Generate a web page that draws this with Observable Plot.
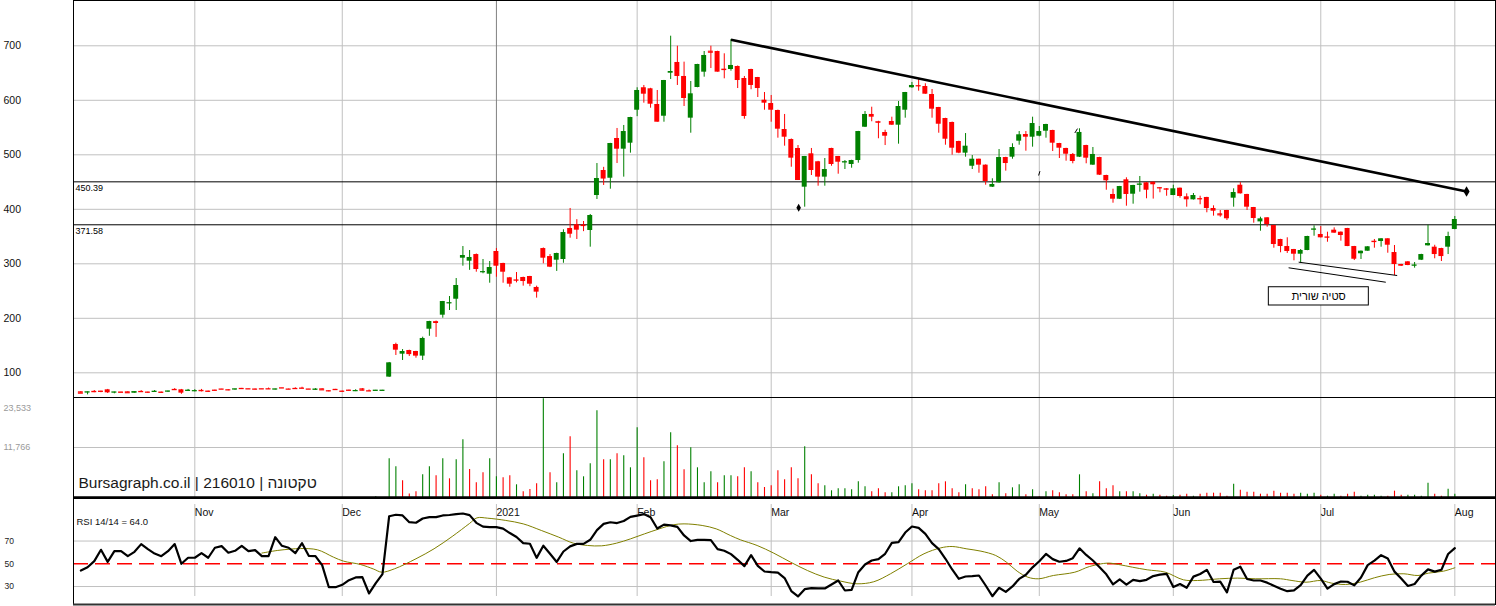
<!DOCTYPE html>
<html><head><meta charset="utf-8">
<script src="https://cdn.jsdelivr.net/npm/d3@7"></script>
<script src="https://cdn.jsdelivr.net/npm/@observablehq/plot@0.6"></script>
<style>
html,body{margin:0;padding:0;background:#fff;overflow:hidden;}
#chart{position:relative;width:1496px;height:606px;overflow:hidden;font-family:"Liberation Sans",Arial,sans-serif;}
#chart svg{position:absolute;left:0;overflow:visible;}
</style></head><body><div id="chart"></div>
<script>
// ---------- data (trading-day index: 0 = first session of Nov 2020) ----------
const firstIndex = -17;
const opens = [
65.1,64.2,66.0,66.3,68.8,64.2,64.8,65.1,62.8,65.9,
64.6,65.5,64.6,66.1,69.6,68.8,67.4,66.9,67.8,66.4,
68.2,70.3,69.0,69.9,71.4,70.9,70.3,70.9,70.9,69.8,
72.6,70.2,71.4,72.0,70.3,69.4,70.6,67.2,69.6,66.4,
68.2,66.9,70.6,67.1,67.4,67.4,
92.1,151.9,134.2,140.9,139.1,130.6,180,194,205.7,227.8,
235,310.3,304.8,317,285,280.9,322.6,300.6,274.3,270.5,
274.9,276.7,256.6,328,313.3,306.6,307.9,364.8,371.6,371,
361.1,425.3,471.2,457,529.9,510.3,521.3,581.8,623,621.1,
592.3,570.8,649.7,669.4,643.7,567.2,623.5,651.6,690.1,689.5,
657,656.5,662,640,656.5,641.8,600.2,594.1,581.3,546.4,
528,511.6,440.6,501.8,487.2,459,511.6,496.9,486.2,482.2,
489.5,550.6,574,561,540.9,561.1,554.3,581.8,623,627,
625.3,610.6,586.8,566.6,559.3,524.4,503,479,491.9,481,
440.6,448.6,495,495.6,525,537.2,532.3,534.1,543.3,544.6,
520.7,511.6,500.6,495.6,517,481,495,462,427.2,418.5,
454.1,427.7,445.5,448.6,449.7,439.8,437.6,425.3,438.7,422.9,
417.4,419.8,421.7,401.5,391.7,397.8,420.4,444.2,427.2,403.3,
376.9,384.4,370.3,344.6,331.7,326.2,317.6,324.4,363.2,353.8,
349.3,361.7,358,364.8,331.7,318.4,323.1,341.3,340.9,345.9,
320.7,298.7,303.6,297.1,306.6,333,330.5,328,330.5,363];
const highs = [
65.5,64.8,67.5,66.3,69.5,64.6,64.8,65.1,65.1,67.3,
64.6,67.5,64.6,66.4,71.0,69.5,69.5,69.0,69.5,66.4,
68.2,70.3,69.0,70.3,71.4,70.9,70.3,70.9,72.0,70.2,
72.6,70.2,72.5,73.5,70.3,71.0,70.6,67.2,69.6,66.4,
68.2,69.0,71.0,68.5,67.8,67.8,
119,154.3,142.7,141.5,139.5,165.4,194.5,195,231,240,
273,331.7,324.4,318,307.9,304.2,328,301,275,284,
275.5,277,259,329,317,319.5,362.4,401.5,381,377.6,
390.5,484,477,521,548.3,553.8,568.8,623,627.2,622,
618,636.5,717.6,699.3,670,634.5,666,689.5,699.3,690,
685.3,711.6,663,643.7,657,642,614.3,608.8,582,574,
529,517,497,511.6,488,493.2,512,497,489.5,490,
543,579.4,587.3,561.5,545.1,569,597.8,614.5,632.7,638.7,
630.3,619.8,587,567,560,525,539,498.7,492,481.5,
456,509.7,495.5,520.2,542.7,542.7,569,551.9,556,545,
521,512,502.4,547.7,517.5,513.4,495.5,462.5,436.9,442,
457.8,444,460.2,449,450,440,438,444.2,439,428.4,
429,424,422,406.4,397.8,398,437.6,449,427.5,403.5,
385.5,384.5,370.5,345,347.7,326.5,326.2,350.5,369.7,368.4,
358,366,358.5,365,332,323.5,331.5,344.6,346,346,
333.6,299,304,302.4,317.5,370.9,334,328.5,358,386.8];
const lows = [
62.5,59.6,63.5,63.5,62.0,61.5,64.3,63.5,62.8,63.8,
62.0,64.0,62.5,64.0,67.5,60.5,66.0,65.0,65.0,64.0,
66.0,70.0,67.0,68.0,69.5,70.5,68.5,70.5,69.5,68.5,
72.2,69.0,70.0,70.5,70.0,68.0,68.8,65.0,69.3,64.5,
66.0,65.5,67.0,65.5,67.4,67.4,
91.5,131.8,122.6,130,126.8,122.6,167,165,200.2,214.3,
214.3,295.6,288,284.6,281.7,264.4,275.4,264.4,257,265,
259,258,237,300,293,286,301,347,344.6,359,
330.5,418,443.7,436.9,484,459,503,570,594.7,585.5,
559.8,559.8,638.2,627.2,588.6,539.6,623,642.4,658.3,651.6,
639.4,653.4,621.6,565.3,619.3,605.1,581.8,559.8,530.5,515.8,
477.2,452.8,403.9,462,442.4,442.4,479,464.4,473,475.4,
484.6,550,560.6,529.4,517,554,519.5,567.2,622,616.7,
611,567.2,539.6,517.6,499.3,502,495.6,473,466.2,444.2,
440,448,470,491.9,517.6,506.6,514,533,530.5,506,
493.2,488.3,483.5,495,483.5,480.5,462,435,411.2,418,
405.7,409.4,431.4,419.3,418.7,430.3,424,425,420.4,403.9,
417,408.3,393.6,387.4,385.5,379.4,403.9,428,397.8,374.5,
359.8,367.2,328.6,320.2,319,305.5,301.1,324,350.6,347.5,
339.6,356,341.5,331.5,306,307.9,323,328.6,330.5,319.4,
278.5,295,296.5,292,306,332.5,309.2,304.2,317,362.5];
const closes = [
62.7,64.8,65.5,66.0,63.3,64.6,64.3,63.5,65.1,65.5,
64.4,65.9,64.2,66.4,69.2,62.7,67.8,67.2,67.3,66.1,
67.9,70.0,68.7,70.3,71.1,70.5,70.0,70.5,70.5,70.2,
72.2,70.0,71.1,71.7,70.0,69.8,68.8,66.9,69.3,66.1,
67.9,67.3,68.2,66.8,67.8,67.8,
118.3,141.5,139.1,133.4,130.6,163,194.1,192.5,230.8,228.4,
260.2,315.2,311.6,289.5,285.5,293.2,295.6,284.6,262.6,270,
267.5,262.6,248,310.3,293.8,318.9,357.4,354.3,361.7,370.3,
388.6,456.5,455.5,520.7,510.3,542.7,568.4,618,611.2,592.8,
559.8,636.3,652.8,643.7,603.3,611.9,665.7,682.2,688.3,651.6,
656.5,663.9,636.3,570.3,627.2,621.6,594.7,581.8,547,532.3,
493.8,452.8,496.9,471.2,459,473,482.2,486.4,487,489.5,
542.7,574,569,559.8,534.1,554.3,588.6,614.3,627.2,626.6,
611.2,583.7,556.1,528.6,512.1,503,515.8,491.9,481,451,
445.5,495,484,513.4,536.7,532.3,557.4,542.7,555.6,521.3,
512.1,501.1,487.7,541,493.8,500.6,462.6,452.3,418.5,441.8,
427.2,443.7,446,435,445,439.4,435,437.6,423.5,417.4,
425.3,419.3,401.5,396.5,389.9,382.6,430.8,428.4,403.9,383.1,
382.5,372.1,335.4,331.7,322.6,317.6,324.4,350.1,363.6,347.7,
348.9,356.2,351.9,331.7,308.4,323.1,331.2,340.9,345.9,334.1,
298.7,295.6,296.9,297.5,317,337.2,317,313.3,350.1,381.3];
const volumes = [
0,0,0,0,0,0,0,0,0,0, 0,0,0,0,0,0,0,0,0,0,
0,0,0,0,0,0,0,0,0,0, 0,0,0,0,0,0,0,0,0,0,
0,0,0,0,200,0,
9100,7220,3930,800,1340,5340,7220,5100,9100,4400,
8870,13580,6590,3460,5810,9100,4870,4640,5100,2990,
1340,1880,3220,23230,5810,3460,10280,14280,6280,4870,
7930,20400,8870,8870,10280,9810,6990,16400,9340,3930,
4160,8400,15220,12160,6520,11690,6990,3460,6050,3460,
5100,5100,4870,6990,6050,3460,2350,2750,6280,4160,
6990,4400,11930,5340,3220,2750,1580,2050,2050,1810,
3690,2520,1340,2050,1110,1110,2520,2750,3220,1810,
1580,1580,3220,3690,2050,1110,2990,2050,1810,2520,
640,3460,870,2280,2990,640,1810,160,1340,1580,
1110,640,640,5340,1340,870,3690,2050,2750,1340,
1340,1340,870,550,780,550,310,470,550,780,
310,780,1020,1020,1020,310,3140,1720,1250,1250,
780,780,1490,1020,1020,780,1020,780,1020,550,
310,780,310,780,1250,310,550,550,310,310,
1490,550,550,550,310,3370,780,310,1960,780];
const rsiValues = [
44.1,47,52.3,62.3,51.7,61.1,61.1,56.7,60.5,67.3,
62.9,59,56.7,61.1,67.3,50,55.3,55.3,59.3,55.3,
64.1,65.5,59.7,61.4,65.8,61.1,62,56.7,56.7,73.4,
65.8,64.1,59.3,68.1,57,56.7,48.8,29.4,29.4,31.5,
35.6,38,38.2,23.9,33,40.9,
91.8,93.1,92.5,86.6,86.1,89.8,91,91,92.5,92.9,
93.6,94.2,92.8,86,82.7,82.2,82.2,80.9,77,73.6,
68.2,67.6,55.2,65.9,58.8,51.6,60.8,65.3,67.5,67.5,
71.1,79.6,85.1,86.5,85.8,87.6,91.2,92.4,93.7,90.9,
81,84.4,83.8,82.4,74.9,70,71,71.1,70.8,62.9,
61.5,58.5,53.5,47.9,57.6,48.2,43.2,42.6,42.3,37.4,
26,21.3,27.7,28.6,28.3,28.3,31.8,35.3,26.5,27.1,
42.6,49.4,52.9,54.1,58.8,68.4,69,77.5,82.8,81.6,
76.3,68.1,62.9,54.4,45,36.8,38.8,39.1,39.7,30.9,
21.5,28.9,25.3,30.1,36.7,40.4,46.9,52.2,58.7,54.1,
51.8,52.5,54.9,63.6,57.8,52.9,46.9,40.7,31.9,36.2,
31.6,35.8,34.7,35.9,39.2,40.4,41.2,29.6,32.2,28.9,
38.7,41,44.7,34,34.3,24.9,44.7,47.4,36.6,35.3,
35.3,33.4,30.7,28,25.9,26.6,31.2,39.6,44.6,37,
28.1,32.1,34.4,34.2,31,37.9,48.8,52.8,57.6,54.7,
43.1,37.1,30.5,32.2,39.6,45.1,43.1,44.7,58.6,63.7];
// RSI signal line (olive), read at these index positions
const maIdx = [10,12.3,14.3,15.8,18.3,20.7,22.2,24.7,26.7,27.9,29.8,33,35.7,38.4,41,42.1,43.7,46.4,49,51.7,54.3,56.5,58.6,60.7,62.9,65,67.1,69.3,71.4,73,75.7,77.8,79.9,81.4,83.9,86.4,88.9,91.4,93.9,96.4,98.8,101.3,103.8,106.3,108.8,111.3,113,115.2,117.3,119.5,121.1,122.7,124.3,125.9,128.1,131.3,133.5,136.2,137.8,139.9,142.1,144.8,147.5,149.6,152.9,155.6,158.3,162,163.7,165.8,168,169.6,171.7,173.9,176,178.2,180.4,182.5,184.1,186.3,188];
const maVal = [59.4,61.7,62.9,63.4,62.3,55.8,52.3,49.4,45.3,42.6,45.6,54.4,63.2,74,85.5,90.4,90.1,88.1,85.1,79.3,73.4,68.1,66.1,65.8,68.1,71.9,76.3,80.7,84.3,85.1,83.7,80.7,74.9,71.1,66.1,59.3,51.4,44.1,38.3,34.7,32.4,34.2,41.2,50,58.8,64,65.2,63.1,61.1,57.3,51.4,43.5,38.2,36.8,39.7,42.6,47.6,50.6,49.4,47,44.7,42.6,35.9,35.3,36.8,37.4,36.8,36.8,35.3,33.8,35.3,33,31.8,33.9,37.7,40.6,41.2,39.7,41.8,43.5,46.5];

const monthIdx = [0,22,45,66,86,107,126,146,168,188];
const monthLabels = ["Nov","Dec","2021","Feb","Mar","Apr","May","Jun","Jul","Aug"];
const priceTicks = [100,200,300,400,500,600,700];
const levels = [450.39, 371.58];
const volTicks = [23533, 11766];
const rsiTicks = [30,50,70];
// drawn annotations (in data units: index, price)
const trendLine = [{x1: 80, y1: 711, x2: 189.75, y2: 432.7}];
const divergenceLines = [{x1: 164.7, y1: 303, x2: 179.4, y2: 278.5}, {x1: 163.2, y1: 292.7, x2: 177.7, y2: 266.2}];
const noteBox = [{x1: 160.25, x2: 175.17, y1: 223.5, y2: 257, cx: 167.7, cy: 240, text: "סטיה שורית"}];
const smallMarks = [{x: 90.1, y: 402.7}];
const smallStrokes = [{x1: 125.9, y1: 462, x2: 126.1, y2: 470}, {x1: 131.3, y1: 540, x2: 131.7, y2: 548}];
const watermark = "Bursagraph.co.il | 216010 | טקטונה";
const rsiLabel = "RSI 14/14 = 64.0";

// ---------- build ----------
const GREEN = "#008000", RED = "#ff0000", GRID = "#c0c0c0", DARKGRID = "#808080";
const FONT = "'Liberation Sans', Arial, sans-serif";
const rows = opens.map((o, k) => {
  const c = closes[k];
  return {i: firstIndex + k, o, h: highs[k], l: lows[k], c, v: volumes[k], r: rsiValues[k],
    col: c >= o ? GREEN : RED,
    vcol: (k === 0 || c >= closes[k - 1]) ? GREEN : RED};
});
const months = monthIdx.map((idx, k) => ({idx, label: monthLabels[k]}));
const ma = maIdx.map((i, k) => ({i, v: maVal[k]}));
const half = 0.37;

const common = {
  width: 1496, marginLeft: 73, marginRight: 1,
  x: {domain: [-18.1, 194.07], axis: null},
  color: {type: "identity"},
  style: {background: "transparent", fontFamily: FONT, overflow: "visible"}
};

const price = Plot.plot({
  ...common, height: 397, marginTop: 0, marginBottom: 0,
  y: {domain: [54.7, 783.1], axis: null},
  marks: [
    Plot.ruleY(priceTicks, {stroke: GRID}),
    Plot.ruleX(months, {x: "idx", stroke: d => d.label === "2021" ? DARKGRID : GRID}),
    Plot.ruleY(levels, {stroke: "#000", strokeWidth: 1}),
    Plot.text(levels, {y: d => d, text: d => String(d), frameAnchor: "left", dx: 2, dy: 6, textAnchor: "start", fontSize: 9, fill: "#000"}),
    Plot.ruleX(rows, {x: "i", y1: "l", y2: "h", stroke: "col", strokeWidth: 1}),
    Plot.rect(rows, {x1: d => d.i - half, x2: d => d.i + half, y1: "o", y2: "c", fill: "col"}),
    Plot.ruleY(rows.filter(d => Math.abs(d.o - d.c) < 2.5), {x1: d => d.i - half, x2: d => d.i + half, y: "c", stroke: "col", strokeWidth: 1.2}),
    Plot.link(trendLine, {x1: "x1", y1: "y1", x2: "x2", y2: "y2", stroke: "#000", strokeWidth: 2.6}),
    Plot.dot(trendLine, {x: "x2", y: "y2", symbol: "diamond", r: 3.2, fill: "#000"}),
    Plot.link(divergenceLines, {x1: "x1", y1: "y1", x2: "x2", y2: "y2", stroke: "#000", strokeWidth: 1}),
    Plot.rect(noteBox, {x1: "x1", x2: "x2", y1: "y1", y2: "y2", fill: "#fff", stroke: "#000", strokeWidth: 1}),
    Plot.text(noteBox, {x: "cx", y: "cy", text: "text", fontSize: 11, fill: "#000"}),
    Plot.dot(smallMarks, {x: "x", y: "y", symbol: "diamond", r: 2.4, fill: "#000"}),
    Plot.link(smallStrokes, {x1: "x1", y1: "y1", x2: "x2", y2: "y2", stroke: "#000", strokeWidth: 1}),
    Plot.text(priceTicks, {y: d => d, text: d => String(d), frameAnchor: "left", dx: -70, textAnchor: "start", fontSize: 10.5, fill: "#111"}),
    Plot.frame({stroke: "#000"})
  ]
});

const volume = Plot.plot({
  ...common, height: 102, marginTop: 1, marginBottom: 1,
  y: {domain: [0, 23533], axis: null},
  marks: [
    Plot.ruleY([11766], {stroke: GRID}),
    Plot.ruleX(months, {x: "idx", stroke: d => d.label === "2021" ? DARKGRID : GRID}),
    Plot.ruleX(rows.filter(d => d.v > 0), {x: "i", y1: 0, y2: "v", stroke: "vcol", strokeWidth: 1.1}),
    Plot.text([volTicks[1]], {y: d => d, text: d => d3.format(",")(d), frameAnchor: "left", dx: -70, textAnchor: "start", fontSize: 9, fill: "#9a9a9a"}),
    Plot.text([volTicks[0]], {y: d => d, text: d => d3.format(",")(d), frameAnchor: "left", dx: -70, dy: 11, textAnchor: "start", fontSize: 9, fill: "#9a9a9a"}),
    Plot.text([watermark], {text: d => d, frameAnchor: "bottom-left", dx: 5, dy: -10, textAnchor: "start", fontSize: 15.5, fill: "#1a1a1a"}),
    Plot.frame({stroke: "#000"}),
    Plot.ruleY([0], {stroke: "#000", strokeWidth: 2.5})
  ]
});

const rsi = Plot.plot({
  ...common, height: 109, marginTop: 1, marginBottom: 2,
  y: {domain: [14.2, 107.4], axis: null},
  marks: [
    Plot.ruleY([30, 70], {stroke: GRID}),
    Plot.ruleX(months, {x: "idx", stroke: GRID, insetTop: 6, insetBottom: 8}),
    Plot.ruleY([50], {stroke: RED, strokeWidth: 1.4, strokeDasharray: "15,7"}),
    Plot.line(ma, {x: "i", y: "v", stroke: "#808000", strokeWidth: 1, curve: "catmull-rom"}),
    Plot.line(rows, {x: "i", y: "r", stroke: "#000", strokeWidth: 2.2}),
    Plot.text(months, {x: "idx", text: "label", frameAnchor: "top", dy: 10, textAnchor: "start", fontSize: 10.5, fill: "#111"}),
    Plot.text([rsiLabel], {text: d => d, frameAnchor: "top-left", dx: 3, dy: 19.5, textAnchor: "start", fontSize: 9.5, fill: "#111"}),
    Plot.text(rsiTicks, {y: d => d, text: d => String(d), frameAnchor: "left", dx: -69, textAnchor: "start", fontSize: 8.5, fill: "#222"}),
    Plot.frame({stroke: "#000"}),
    Plot.ruleY([14.2], {stroke: "#333", strokeWidth: 2})
  ]
});

const root = document.getElementById("chart");
[[price, 0], [volume, 396], [rsi, 497]].forEach(([svg, top]) => {
  svg.style.top = top + "px";
  root.appendChild(svg);
});
</script></body></html>
